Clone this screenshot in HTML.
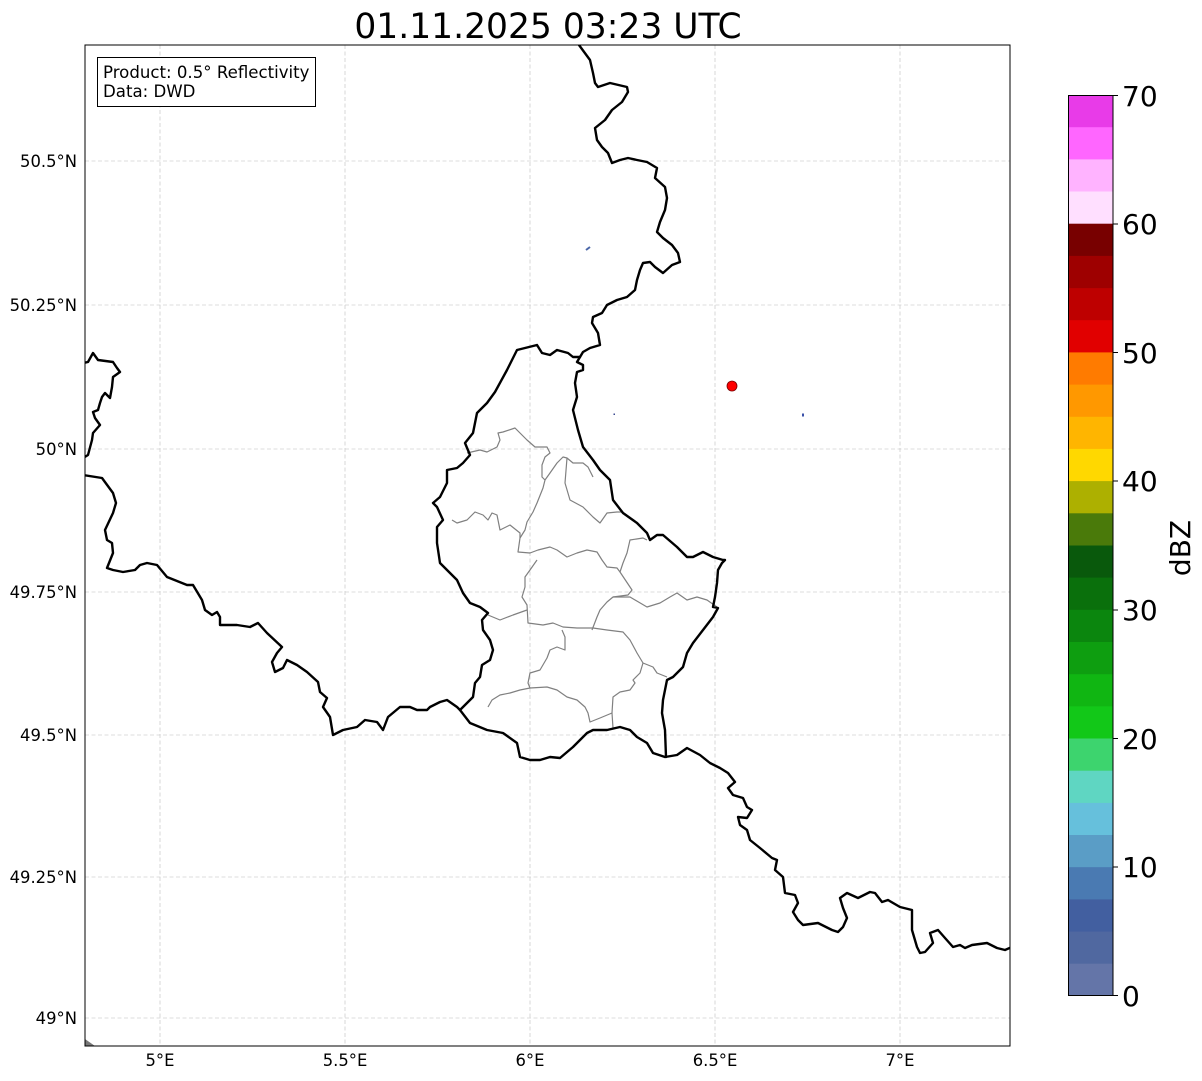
<!DOCTYPE html>
<html>
<head>
<meta charset="utf-8">
<style>
html,body{margin:0;padding:0;background:#fff;}
svg{display:block;}
text{font-family:"DejaVu Sans","Liberation Sans",sans-serif;fill:#000;}
</style>
</head>
<body>
<svg width="1202" height="1081" viewBox="0 0 1202 1081" xmlns="http://www.w3.org/2000/svg">
<defs>
<clipPath id="mapclip"><rect x="85" y="45" width="925" height="1001"/></clipPath>
</defs>
<rect x="0" y="0" width="1202" height="1081" fill="#fff"/>

<!-- Title -->
<text x="548" y="38" font-size="34.5" text-anchor="middle">01.11.2025 03:23 UTC</text>

<g clip-path="url(#mapclip)">
<!-- gridlines -->
<g stroke="#bdbdbd" stroke-width="0.6" stroke-dasharray="4,2.5" fill="none">
<line x1="160" y1="45" x2="160" y2="1046"/>
<line x1="345" y1="45" x2="345" y2="1046"/>
<line x1="530" y1="45" x2="530" y2="1046"/>
<line x1="715" y1="45" x2="715" y2="1046"/>
<line x1="900" y1="45" x2="900" y2="1046"/>
<line x1="85" y1="161" x2="1010" y2="161"/>
<line x1="85" y1="305" x2="1010" y2="305"/>
<line x1="85" y1="449" x2="1010" y2="449"/>
<line x1="85" y1="592" x2="1010" y2="592"/>
<line x1="85" y1="735" x2="1010" y2="735"/>
<line x1="85" y1="877" x2="1010" y2="877"/>
<line x1="85" y1="1018" x2="1010" y2="1018"/>
</g>

<!-- canton lines -->
<g stroke="#808080" stroke-width="1.2" fill="none" stroke-linejoin="round">
<polyline points="467,453 480,450 487,452 497,447 500,440 498,433 503,432 515,428 520,433 527,440 535,447 547,447 550,453 545,457 542,465 542,477 545,480 543,488 537,503 533,512 527,522 525,530 520,538 518,552 530,553 538,550 550,547 557,550 567,557 577,553 587,550 597,552 602,560 607,567 617,568 620,572 623,563 627,553 630,540 643,538 647,540"/>
<polyline points="545,480 550,473 557,463 563,457 567,458 573,463 583,463 588,467 593,477"/>
<polyline points="567,458 565,483 570,500 583,507 593,517 600,523 607,513 617,512 623,512"/>
<polyline points="452,520 457,523 467,520 475,512 483,515 488,520 492,513 497,515 500,530 510,525 520,533 520,538"/>
<polyline points="620,572 632,590 628,595 613,597 607,602 600,610 597,617 592,630"/>
<polyline points="613,597 630,597 647,607 660,603 670,597 677,593 687,600 697,597 707,600 717,607"/>
<polyline points="537,560 530,570 525,577 525,587 522,597 527,605 528,623 543,625 553,623 563,627 577,628 593,628 607,630 623,632 630,640 637,653 643,663 653,667 657,673 667,677"/>
<polyline points="488,615 500,620 513,615 527,610"/>
<polyline points="562,630 565,637 565,650 557,647 550,650 547,658 540,670 530,673 528,683 530,688"/>
<polyline points="530,688 520,690 510,693 500,695 492,700 488,707"/>
<polyline points="530,688 547,687 557,690 567,697 577,700 585,707 588,713 590,722 600,718 612,713 613,728"/>
<polyline points="612,713 613,697 620,692 630,690 635,683 633,680 640,673 643,663"/>
</g>

<!-- country borders -->
<g stroke="#000" stroke-width="2.4" fill="none" stroke-linejoin="round" stroke-linecap="round">
<polyline points="579,45 590,60 593,73 595,83 598,87 610,83 627,87 628,92 622,102 612,110 605,120 595,128 597,140 602,147 608,153 612,163 620,160 628,158 637,160 647,162 657,168 655,178 665,187 667,198 665,210 660,222 657,232 663,238 672,245 678,253 680,262 672,265 663,273 655,267 650,262 643,263 640,270 637,280 635,290 627,297 617,300 607,305 602,313 593,317 592,323 598,333 600,345 590,348 583,352 580,357 577,362 583,365 583,370 577,372 575,383 577,397 573,410 578,430 583,447 593,460 600,470 610,480 613,500 623,513 637,523 647,533 650,540 657,535 663,535 677,547 687,557 693,557 703,552 713,557 723,560 725,560 722,563 718,570 717,583 715,597 713,607 718,608 713,617 703,630 693,643 687,653 683,667 673,677 667,680 665,690 663,700 662,713 665,730 666,757"/>
<polyline points="460,710 470,723 487,730 503,733 517,743 520,757 530,760 540,760 550,757 560,758 573,747 587,733 593,730 607,730 620,727 630,730 637,737 647,743 653,753 665,757 677,755 687,748 700,755 710,763 720,768 728,773 735,782 728,788 733,795 743,798 747,807 752,810 747,818 738,817 740,825 747,830 750,840 760,848 772,858 777,860 775,870 783,877 785,893 795,895 798,903 793,912 798,920 803,925 818,923 832,930 838,932 843,927 847,918 843,908 840,898 847,893 858,898 870,892 875,893 882,902 888,900 900,907 912,910 912,930 917,947 920,953 925,952 933,943 930,933 938,930 945,938 953,947 960,945 965,948 972,945 987,943 997,948 1005,950 1012,947"/>
<polyline points="83,475 102,478 113,493 116,503 113,513 105,530 107,540 112,543 113,553 107,568 113,570 123,572 135,570 140,565 147,563 157,565 167,577 187,585 193,585 202,600 205,610 212,615 217,612 220,617 220,625 237,625 250,627 258,623 267,633 282,647 277,653 272,662 275,672 283,668 287,660 297,665 307,672 318,682 320,692 327,698 323,707 330,717 333,735 343,730 357,727 365,720 377,722 383,730 388,717 400,707 410,707 417,710 427,710 430,707 440,702 447,700 457,707 460,710"/>
<polyline points="460,710 473,697 475,683 480,677 482,665 490,660 493,650 490,640 483,630 482,620 488,613 480,607 470,603 463,593 457,580 447,570 440,563 437,543 437,527 443,520 437,507 433,503 440,497 447,483 447,470 457,468 463,463 470,455 465,443 473,433 477,413 487,403 495,392 507,370 517,350 537,345 542,353 550,355 557,350 568,353 573,357 580,357"/>
<polyline points="83,363 88,362 93,353 98,360 113,362 117,368 120,372 113,377 112,387 110,398 105,393 102,397 100,403 98,410 93,412 95,418 100,425 93,433 92,440 88,455 83,458"/>
</g>

<!-- radar echoes / marker -->
<line x1="586" y1="250" x2="590" y2="247" stroke="#4a66a8" stroke-width="2"/>
<rect x="613.5" y="413.5" width="1.5" height="1.5" fill="#3a4a90"/>
<rect x="802" y="413.5" width="2" height="3" fill="#3a50a8"/>
<circle cx="732" cy="386" r="5" fill="#ff0000" stroke="#700" stroke-width="0.8"/>
<polygon points="85,1039 85,1046 95,1046" fill="#777"/>
</g>

<!-- axes frame -->
<rect x="85" y="45" width="925" height="1001" fill="none" stroke="#000" stroke-width="1"/>

<!-- info box -->
<rect x="97.5" y="57.5" width="218" height="49" fill="#fff" stroke="#000" stroke-width="1"/>
<text x="103" y="78" font-size="16.6">Product: 0.5° Reflectivity</text>
<text x="103" y="97" font-size="16.6">Data: DWD</text>

<!-- y tick labels -->
<g font-size="16.4" text-anchor="end">
<text x="77" y="167">50.5°N</text>
<text x="77" y="311">50.25°N</text>
<text x="77" y="455">50°N</text>
<text x="77" y="598">49.75°N</text>
<text x="77" y="741">49.5°N</text>
<text x="77" y="883">49.25°N</text>
<text x="77" y="1024">49°N</text>
</g>
<!-- x tick labels -->
<g font-size="16.4" text-anchor="middle">
<text x="160" y="1066">5°E</text>
<text x="345" y="1066">5.5°E</text>
<text x="530" y="1066">6°E</text>
<text x="715" y="1066">6.5°E</text>
<text x="900" y="1066">7°E</text>
</g>

<!-- colorbar -->
<g>
<rect x="1068" y="95.0" width="45" height="32.6" fill="#e83be8"/>
<rect x="1068" y="127.2" width="45" height="32.6" fill="#ff66ff"/>
<rect x="1068" y="159.4" width="45" height="32.6" fill="#ffb3ff"/>
<rect x="1068" y="191.5" width="45" height="32.6" fill="#ffdfff"/>
<rect x="1068" y="223.7" width="45" height="32.6" fill="#780000"/>
<rect x="1068" y="255.9" width="45" height="32.6" fill="#9e0000"/>
<rect x="1068" y="288.1" width="45" height="32.6" fill="#be0000"/>
<rect x="1068" y="320.2" width="45" height="32.6" fill="#e10000"/>
<rect x="1068" y="352.4" width="45" height="32.6" fill="#ff7b00"/>
<rect x="1068" y="384.6" width="45" height="32.6" fill="#ff9800"/>
<rect x="1068" y="416.8" width="45" height="32.6" fill="#ffb500"/>
<rect x="1068" y="448.9" width="45" height="32.6" fill="#ffd800"/>
<rect x="1068" y="481.1" width="45" height="32.6" fill="#adb000"/>
<rect x="1068" y="513.3" width="45" height="32.6" fill="#4a7a0a"/>
<rect x="1068" y="545.5" width="45" height="32.6" fill="#09590c"/>
<rect x="1068" y="577.6" width="45" height="32.6" fill="#0a700c"/>
<rect x="1068" y="609.8" width="45" height="32.6" fill="#0b860e"/>
<rect x="1068" y="642.0" width="45" height="32.6" fill="#0e9e10"/>
<rect x="1068" y="674.2" width="45" height="32.6" fill="#10b612"/>
<rect x="1068" y="706.3" width="45" height="32.6" fill="#12c818"/>
<rect x="1068" y="738.5" width="45" height="32.6" fill="#3dd46e"/>
<rect x="1068" y="770.7" width="45" height="32.6" fill="#5fd6c2"/>
<rect x="1068" y="802.9" width="45" height="32.6" fill="#66c0dc"/>
<rect x="1068" y="835.0" width="45" height="32.6" fill="#5a9dc6"/>
<rect x="1068" y="867.2" width="45" height="32.6" fill="#4a7ab2"/>
<rect x="1068" y="899.4" width="45" height="32.6" fill="#425fa0"/>
<rect x="1068" y="931.6" width="45" height="32.6" fill="#5068a0"/>
<rect x="1068" y="963.7" width="45" height="31.8" fill="#6475a8"/>
<rect x="1068.5" y="95.5" width="44.5" height="900" fill="none" stroke="#000" stroke-width="1"/>
<g stroke="#000" stroke-width="1">
<line x1="1113" y1="95.5" x2="1118" y2="95.5"/>
<line x1="1113" y1="224" x2="1118" y2="224"/>
<line x1="1113" y1="352.5" x2="1118" y2="352.5"/>
<line x1="1113" y1="481" x2="1118" y2="481"/>
<line x1="1113" y1="610" x2="1118" y2="610"/>
<line x1="1113" y1="738.5" x2="1118" y2="738.5"/>
<line x1="1113" y1="867" x2="1118" y2="867"/>
<line x1="1113" y1="995.5" x2="1118" y2="995.5"/>
</g>
<g font-size="28">
<text x="1122" y="106">70</text>
<text x="1122" y="234">60</text>
<text x="1122" y="363">50</text>
<text x="1122" y="491">40</text>
<text x="1122" y="620">30</text>
<text x="1122" y="749">20</text>
<text x="1122" y="877">10</text>
<text x="1122" y="1006">0</text>
</g>
<text x="0" y="0" font-size="28" text-anchor="middle" transform="translate(1190,548) rotate(-90)">dBZ</text>
</g>
</svg>
</body>
</html>
